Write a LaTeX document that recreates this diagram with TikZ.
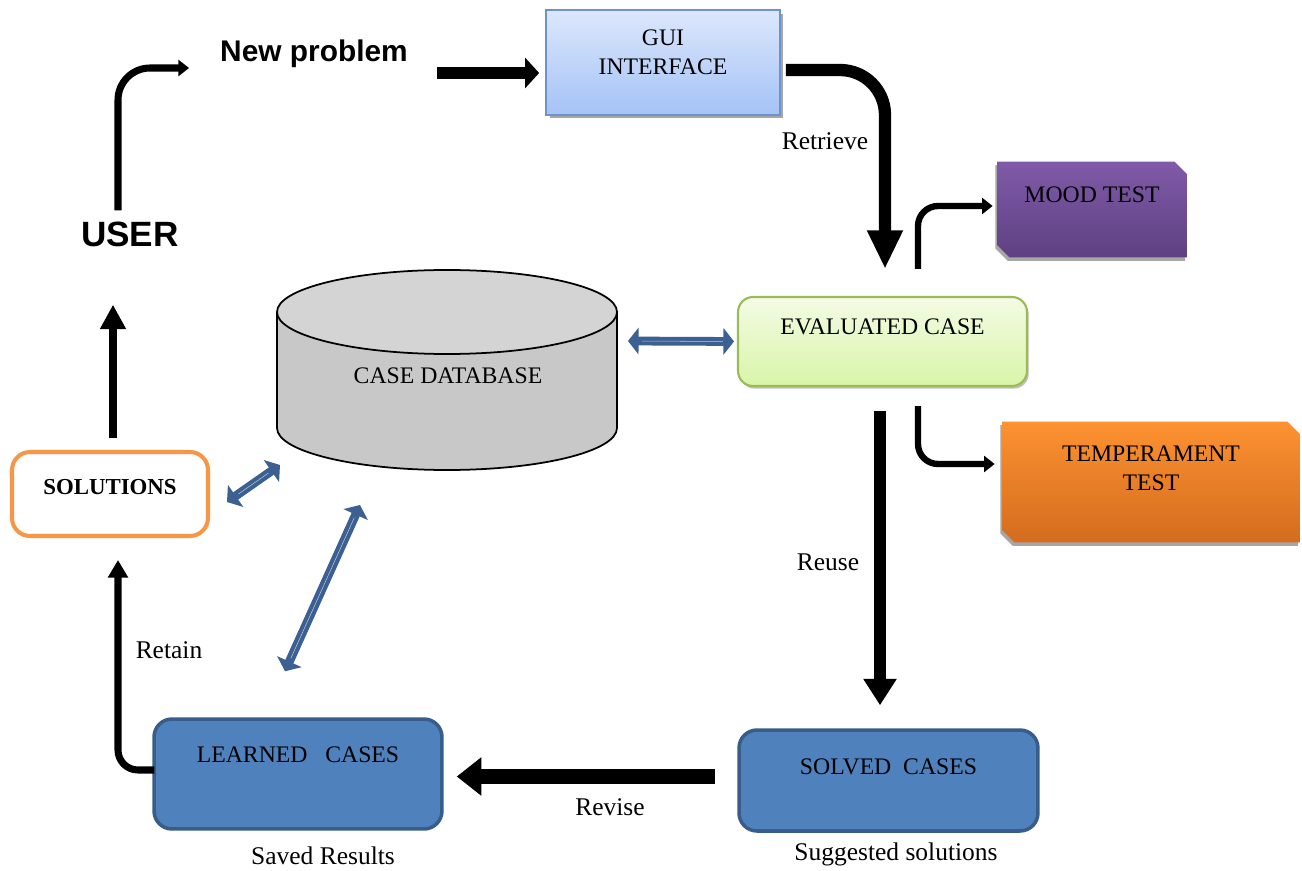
\documentclass[tikz,border=0pt]{standalone}
\usepackage{fontspec}
\setmainfont{Liberation Serif}
\newfontfamily\headfont{Liberation Sans}
\usetikzlibrary{positioning,shapes.misc,arrows.meta,shadows}

\definecolor{guitop}{RGB}{220,231,252}
\definecolor{guibottom}{RGB}{164,195,246}
\definecolor{guiedge}{RGB}{111,146,200}
\definecolor{evaltop}{RGB}{244,251,229}
\definecolor{evalbottom}{RGB}{216,245,168}
\definecolor{evaledge}{RGB}{155,187,89}
\definecolor{moodtop}{RGB}{128,90,168}
\definecolor{moodbottom}{RGB}{94,65,130}
\definecolor{tempertop}{RGB}{252,146,48}
\definecolor{temperbottom}{RGB}{212,108,31}
\definecolor{casefill}{RGB}{79,129,189}
\definecolor{caseedge}{RGB}{56,93,138}
\definecolor{soledge}{RGB}{247,150,70}
\definecolor{dbbody}{RGB}{200,200,200}
\definecolor{dbtop}{RGB}{212,212,212}
\definecolor{linkblue}{RGB}{59,96,145}

\tikzset{
  boxtext/.style={font=\fontsize{13.5}{17}\selectfont, align=center, inner ysep=0pt},
  lbl/.style={font=\fontsize{14.5}{17}\selectfont},
  bigarrow/.style={line width=7pt, -{Triangle[length=13pt,width=18pt]}},
  midarrow/.style={line width=4.3pt, -{Triangle[length=12pt,width=13pt]}},
  smallarrow/.style={line width=3.6pt, -{Triangle[length=6pt,width=9pt]}},
  dblarrow/.style={draw=linkblue, line width=5pt,
    {Triangle[length=6pt,width=15pt]}-{Triangle[length=6pt,width=15pt]},
    postaction={draw=linkblue!35!white, line width=0.3pt, -, shorten <=8pt, shorten >=8pt}},
  casebox/.style={boxtext, draw=caseedge, line width=2pt, fill=casefill, rounded corners=0.36cm},
  testbox/.style={boxtext, chamfered rectangle, chamfered rectangle corners={north east,south west},
    chamfered rectangle xsep=4pt,
    drop shadow={shadow xshift=-1pt, shadow yshift=-2pt, fill=gray!70, opacity=1}}
}

\begin{document}
\begin{tikzpicture}[x=0.02cm, y=-0.02cm]
  \useasboundingbox (0,0) rectangle (1302,871);

  % case database
  \filldraw[fill=dbbody, line width=1pt] (447,428) ellipse [x radius=170, y radius=42];
  \fill[dbbody] (277,312) rectangle (617,428);
  \draw[line width=1pt] (277,312) -- (277,428) (617,312) -- (617,428);
  \filldraw[fill=dbtop, line width=1pt] (447,312) ellipse [x radius=170, y radius=42];
  \node[boxtext] (db) at (448,376) {CASE DATABASE};
  \coordinate (dbright) at (628,341);
  \coordinate (dbleft) at (280,465);
  \coordinate (dbbottom) at (360,505);

  \node[font=\headfont\bfseries\fontsize{17}{20}\selectfont] (newprob) at (314,54) {New problem};
  \node[font=\headfont\bfseries\fontsize{20}{24}\selectfont] (user) at (130,234) {USER};

  \node[boxtext, draw=guiedge, line width=1pt, top color=guitop, bottom color=guibottom,
    minimum width=4.68cm, text height=1.3cm, text depth=0.8cm,
    drop shadow={shadow xshift=2pt, shadow yshift=-2pt, fill=gray!70, opacity=1}]
    (gui) at (663,62.5) {GUI\\INTERFACE};
  \node[boxtext, draw=evaledge, line width=1.2pt, top color=evaltop, bottom color=evalbottom,
    rounded corners=0.3cm, minimum width=5.78cm, text height=0.76cm, text depth=1.02cm,
    drop shadow={shadow xshift=1pt, shadow yshift=-1.5pt, fill=gray!50, opacity=1}]
    (evalcase) at (882.5,341.5) {EVALUATED CASE};
  \node[testbox, top color=moodtop, bottom color=moodbottom, minimum width=3.8cm,
    text height=0.72cm, text depth=0.98cm] (mood) at (1092,209.5) {MOOD TEST};
  \node[testbox, top color=tempertop, bottom color=temperbottom, minimum width=5.96cm,
    text height=1.28cm, text depth=0.92cm] (temper) at (1151,482) {TEMPERAMENT\\TEST};
  \node[casebox, minimum width=5.98cm, text height=0.88cm, text depth=1.14cm]
    (solved) at (888.5,780.5) {SOLVED~~CASES};
  \node[casebox, minimum width=5.76cm, text height=0.86cm, text depth=1.34cm]
    (learned) at (298,774) {LEARNED~~~CASES};
  \node[boxtext, draw=soledge, line width=2.3pt, fill=white, rounded corners=0.36cm,
    minimum width=3.92cm, text height=0.86cm, text depth=0.82cm, font=\fontsize{13}{16}\selectfont\bfseries]
    (solutions) at (110,494) {SOLUTIONS};

  \node[lbl] (retrieve) at (825,141) {Retrieve};
  \node[lbl] (reuse) at (828,562) {Reuse};
  \node[lbl] (revise) at (610,807) {Revise};
  \node[lbl] (retain) at (169,650) {Retain};
  \node[lbl] (saved) at (323,856) {Saved Results};
  \node[lbl] (suggested) at (896,854) {Suggested solutions};

  % main cycle
  \draw[smallarrow, line width=4pt, rounded corners=0.64cm] ([xshift=-0.24cm,yshift=0.1cm]user.north)
    |- ([xshift=-0.5cm,yshift=-0.28cm]newprob.west);
  \draw[bigarrow, -{Triangle[length=8pt,width=17pt]}, shorten >=0.12cm]
    ([xshift=0.46cm,yshift=-0.38cm]newprob.east) coordinate (npgo) -- (npgo -| gui.west);
  \draw[bigarrow, -{Triangle[length=22pt,width=19pt]}, rounded corners=0.9cm]
    ([xshift=0.1cm,yshift=-0.15cm]gui.east) -| ([xshift=0.05cm,yshift=0.54cm]evalcase.north);
  \draw[smallarrow, rounded corners=0.4cm] ([xshift=0.71cm,yshift=0.54cm]evalcase.north)
    |- ([xshift=-0.08cm,yshift=0.07cm]mood.west);
  \draw[smallarrow, rounded corners=0.4cm] ([xshift=0.71cm,yshift=-0.38cm]evalcase.south)
    |- ([xshift=-0.14cm,yshift=0.36cm]temper.west);
  \draw[bigarrow, -{Triangle[length=15pt,width=18pt]}, shorten >=0.46cm]
    ([xshift=-0.05cm,yshift=-0.48cm]evalcase.south) coordinate (reusego) -- (reusego |- solved.north);
  \draw[bigarrow, line width=8pt, -{Triangle[length=14pt,width=21pt]}, shorten >=0.26cm]
    ([xshift=-0.44cm,yshift=0.08cm]solved.west) coordinate (revisego) -- (revisego -| learned.east);
  \draw[midarrow, line width=4pt, -{Triangle[length=10pt,width=11pt]}, rounded corners=0.4cm, shorten >=0.44cm]
    ([xshift=0.04cm,yshift=0.08cm]learned.west) -| ([xshift=0.16cm]solutions.south);
  \draw[midarrow, -{Triangle[length=14pt,width=14pt]}, shorten >=1.04cm]
    ([xshift=0.06cm,yshift=0.24cm]solutions.north) coordinate (usergo) -- (usergo |- user.south);

  % links to the database
  \draw[dblarrow, shorten >=0.06cm] (dbright) -- (evalcase.west);
  \draw[dblarrow] ([xshift=0.34cm,yshift=-0.16cm]solutions.east) -- (dbleft);
  \draw[dblarrow] ([xshift=-0.26cm,yshift=0.92cm]learned.north) -- (dbbottom);
\end{tikzpicture}
\end{document}
